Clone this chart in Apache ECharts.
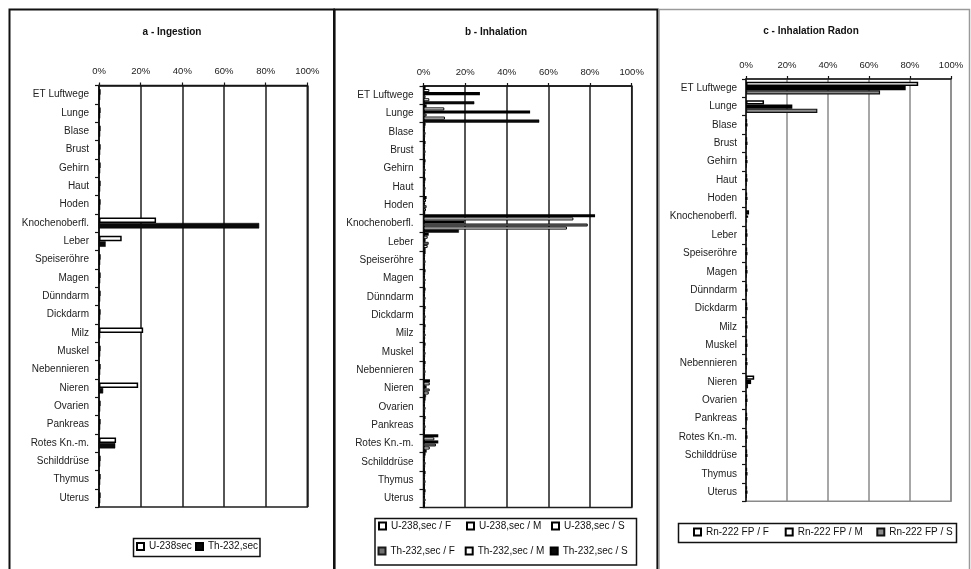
<!DOCTYPE html>
<html>
<head>
<meta charset="utf-8">
<script src="https://cdn.jsdelivr.net/npm/echarts@6/dist/echarts.min.js"></script>
<style>
  html, body { margin: 0; padding: 0; background: #fff; }
  #chart { width: 971px; height: 569px; }
</style>
</head>
<body>
<div id="chart"></div>
<script>
// Organ categories (top to bottom)
const organs = ['ET Luftwege', 'Lunge', 'Blase', 'Brust', 'Gehirn', 'Haut', 'Hoden',
  'Knochenoberfl.', 'Leber', 'Speiseröhre', 'Magen', 'Dünndarm', 'Dickdarm', 'Milz',
  'Muskel', 'Nebennieren', 'Nieren', 'Ovarien', 'Pankreas', 'Rotes Kn.-m.',
  'Schilddrüse', 'Thymus', 'Uterus'];

// Percentage axis ticks
const pctTicks = [0, 20, 40, 60, 80, 100];

// Panel titles
const titles = ['a - Ingestion', 'b - Inhalation', 'c - Inhalation Radon'];

// a - Ingestion (% share per organ)
const ingU238 = [0.8, 0.8, 0.8, 0.8, 0.8, 0.8, 0.8, 27.4, 10.9, 0.8, 0.8, 0.8, 0.8, 21.2,
  0.8, 0.8, 18.8, 0.8, 0.8, 8.2, 0.8, 0.8, 0.8];
const ingTh232 = [0.6, 0.6, 0.6, 0.6, 0.6, 0.6, 0.6, 76.9, 3.2, 0.6, 0.6, 0.6, 0.6, 0.6,
  0.6, 0.6, 2.0, 0.6, 0.6, 7.8, 0.6, 0.6, 0.6];

// b - Inhalation (% share per organ)
const inhU238F = [1.0, 1.5, 1.0, 1.0, 1.0, 1.0, 1.5, 82.4, 2.5, 1.0, 1.0, 1.0, 1.0, 1.0,
  1.0, 1.0, 3.1, 1.0, 1.0, 7.1, 1.0, 1.0, 1.0];
const inhU238M = [2.8, 10.0, 0.8, 0.8, 0.8, 0.8, 1.2, 72.0, 2.0, 0.8, 0.8, 0.8, 0.8, 0.8,
  0.8, 0.8, 3.0, 0.8, 0.8, 5.2, 0.8, 0.8, 0.8];
const inhU238S = [27.1, 51.2, 0.6, 0.6, 0.6, 0.6, 0.8, 19.5, 1.0, 0.6, 0.6, 0.6, 0.6, 0.6,
  0.6, 0.6, 1.5, 0.6, 0.6, 7.1, 0.6, 0.6, 0.6];
const inhTh232F = [1.0, 1.5, 1.0, 1.0, 1.0, 1.0, 1.5, 78.9, 2.5, 1.0, 1.0, 1.0, 1.0, 1.0,
  1.0, 1.0, 3.0, 1.0, 1.0, 6.0, 1.0, 1.0, 1.0];
const inhTh232M = [2.8, 10.3, 0.8, 0.8, 0.8, 0.8, 1.2, 68.9, 2.0, 0.8, 0.8, 0.8, 0.8, 0.8,
  0.8, 0.8, 2.5, 0.8, 0.8, 3.0, 0.8, 0.8, 0.8];
const inhTh232S = [24.4, 55.6, 0.6, 0.6, 0.6, 0.6, 0.8, 17.0, 1.0, 0.6, 0.6, 0.6, 0.6, 0.6,
  0.6, 0.6, 1.2, 0.6, 0.6, 1.5, 0.6, 0.6, 0.6];

// c - Inhalation Radon (% share per organ)
const rnF = [84.0, 8.8, 0.4, 0.4, 0.4, 0.4, 0.4, 1.5, 0.4, 0.4, 0.4, 0.4, 0.4, 0.4,
  0.4, 0.4, 4.0, 0.4, 0.4, 0.4, 0.4, 0.4, 0.4];
const rnM = [77.9, 22.6, 0.4, 0.4, 0.4, 0.4, 0.4, 1.0, 0.4, 0.4, 0.4, 0.4, 0.4, 0.4,
  0.4, 0.4, 2.5, 0.4, 0.4, 0.4, 0.4, 0.4, 0.4];
const rnS = [65.4, 34.8, 0.3, 0.3, 0.3, 0.3, 0.3, 0.5, 0.3, 0.3, 0.3, 0.3, 0.3, 0.3,
  0.3, 0.3, 1.0, 0.3, 0.3, 0.3, 0.3, 0.3, 0.3];

const FONT = '"Liberation Sans", Arial, sans-serif';
const INK = '#141414';

const grids = [
  { left: 99, top: 85.5, width: 208.3, height: 421.6, line: '#1e1e1e' },
  { left: 423.5, top: 86, width: 208.2, height: 421.6, line: '#1e1e1e' },
  { left: 746, top: 79, width: 205, height: 422.3, line: '#8a8a8a' }
];

function xAxisFor(i) {
  return {
    gridIndex: i, type: 'value', position: 'top',
    min: pctTicks[0], max: pctTicks[pctTicks.length - 1], interval: pctTicks[1] - pctTicks[0],
    axisLabel: { formatter: '{value}%', fontSize: 9.5, color: '#222', margin: 9, fontFamily: FONT },
    axisLine: { show: true, lineStyle: { color: INK, width: 1.5 } },
    axisTick: { show: true, length: 3, lineStyle: { color: INK, width: 1.2 } },
    splitLine: { show: true, lineStyle: { color: grids[i].line, width: 1.5 } }
  };
}

function yAxisFor(i, margin) {
  return {
    gridIndex: i, type: 'category', data: organs, inverse: true,
    axisLine: { show: true, onZero: false, lineStyle: { color: INK, width: 1.5 } },
    axisTick: { show: true, length: 4, lineStyle: { color: INK, width: 1.2 } },
    axisLabel: { fontSize: 10, color: '#222', margin: margin, fontFamily: FONT }
  };
}

function barSeries(name, data, axisIdx, style, gap) {
  return {
    name: name, type: 'bar', data: data,
    xAxisIndex: axisIdx, yAxisIndex: axisIdx,
    barGap: '0%', barCategoryGap: gap,
    itemStyle: style,
    emphasis: { disabled: true },
    animation: false
  };
}

const outlined = { color: '#ffffff', borderColor: '#000', borderWidth: 1 };
const outlinedHeavy = { color: '#ffffff', borderColor: '#000', borderWidth: 1.8 };
const solidBlack = { color: '#0a0a0a', borderColor: '#000', borderWidth: 0.5 };
const greyFill = { color: '#707070', borderColor: '#1a1a1a', borderWidth: 1 };

const series = [
  barSeries('U-238sec', ingU238, 0, { color: '#fff', borderColor: '#000', borderWidth: 1.5 }, '40%'),
  barSeries('Th-232,sec', ingTh232, 0, solidBlack, '40%'),

  barSeries('U-238,sec / F', inhU238F, 1, outlinedHeavy, '0%'),
  barSeries('U-238,sec / M', inhU238M, 1, outlined, '0%'),
  barSeries('U-238,sec / S', inhU238S, 1, outlinedHeavy, '0%'),
  barSeries('Th-232,sec / F', inhTh232F, 1, greyFill, '0%'),
  barSeries('Th-232,sec / M', inhTh232M, 1, outlined, '0%'),
  barSeries('Th-232,sec / S', inhTh232S, 1, solidBlack, '0%'),

  barSeries('Rn-222 FP / F', rnF, 2, { color: '#fff', borderColor: '#000', borderWidth: 1.5 }, '31%'),
  barSeries('Rn-222 FP / M', rnM, 2, { color: '#fff', borderColor: '#000', borderWidth: 2.2 }, '31%'),
  barSeries('Rn-222 FP / S', rnS, 2, { color: '#8c8c8c', borderColor: '#111', borderWidth: 1.2 }, '31%')
];

// single-entry legends so every key sits at its own spot
function legendAt(name, left, cy) {
  return {
    data: [name], left: left, top: cy - 6, padding: 0,
    icon: 'rect', itemWidth: 7, itemHeight: 7, itemGap: 4,
    selectedMode: false,
    textStyle: { fontSize: 10, color: '#111', fontFamily: FONT }
  };
}

const legends = [
  legendAt('U-238sec', 136, 547.5),
  legendAt('Th-232,sec', 195, 547.5),
  legendAt('U-238,sec / F', 378, 527),
  legendAt('U-238,sec / M', 466, 527),
  legendAt('U-238,sec / S', 551, 527),
  legendAt('Th-232,sec / F', 377.5, 552),
  legendAt('Th-232,sec / M', 464.7, 552),
  legendAt('Th-232,sec / S', 549.7, 552),
  legendAt('Rn-222 FP / F', 693, 533),
  legendAt('Rn-222 FP / M', 784.7, 533),
  legendAt('Rn-222 FP / S', 876.3, 533)
];

const titleCenters = [[172, 27], [496, 27], [811, 26]];

const option = {
  backgroundColor: '#ffffff',
  animation: false,
  title: titles.map((t, i) => ({
    text: t, left: titleCenters[i][0], top: titleCenters[i][1], textAlign: 'center', padding: 0,
    textStyle: { fontSize: 10, fontWeight: 'bold', color: '#111', fontFamily: FONT }
  })),
  grid: grids.map(g => ({
    left: g.left, top: g.top, width: g.width, height: g.height,
    show: true, borderColor: g.line, borderWidth: 1.5, backgroundColor: 'transparent',
    containLabel: false
  })),
  xAxis: [xAxisFor(0), xAxisFor(1), xAxisFor(2)],
  yAxis: [yAxisFor(0, 10), yAxisFor(1, 10), yAxisFor(2, 9)],
  legend: legends,
  series: series,
  graphic: [
    { type: 'rect', shape: { x: 9.5, y: 9.5, width: 324.5, height: 600 }, silent: true,
      style: { fill: 'none', stroke: '#111', lineWidth: 2 } },
    { type: 'rect', shape: { x: 334.5, y: 9.5, width: 323, height: 600 }, silent: true,
      style: { fill: 'none', stroke: '#111', lineWidth: 2.2 } },
    { type: 'rect', shape: { x: 659, y: 9.5, width: 310.5, height: 600 }, silent: true,
      style: { fill: 'none', stroke: '#9a9a9a', lineWidth: 1.5 } },
    { type: 'rect', shape: { x: 133.5, y: 538.5, width: 126.5, height: 18 }, silent: true,
      style: { fill: 'none', stroke: '#111', lineWidth: 1.5 } },
    { type: 'rect', shape: { x: 375, y: 518.5, width: 261.5, height: 46.5 }, silent: true,
      style: { fill: 'none', stroke: '#111', lineWidth: 1.5 } },
    { type: 'rect', shape: { x: 678.5, y: 523.5, width: 278, height: 19 }, silent: true,
      style: { fill: 'none', stroke: '#111', lineWidth: 1.5 } }
  ]
};

const chart = echarts.init(document.getElementById('chart'), null, { renderer: 'canvas' });
chart.setOption(option);
</script>
</body>
</html>
